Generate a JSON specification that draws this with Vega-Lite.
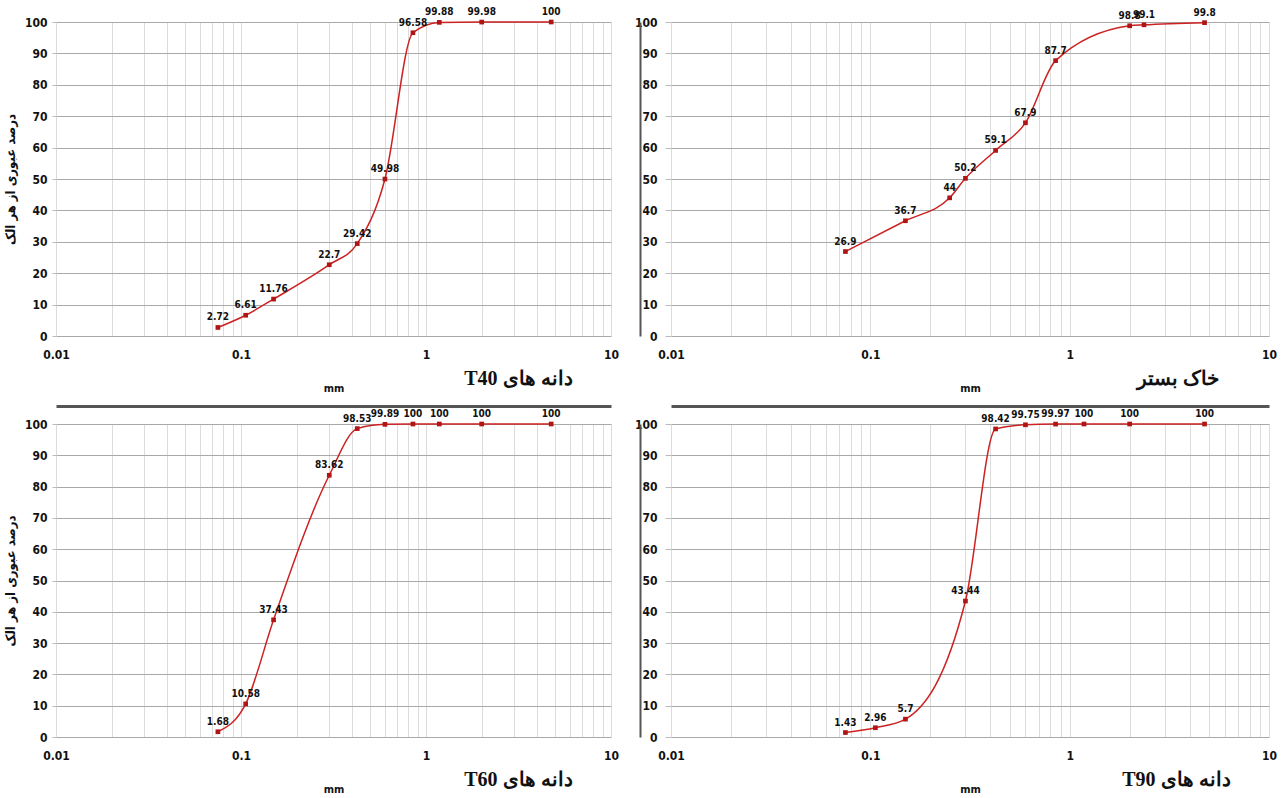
{
  "$schema": "https://vega.github.io/schema/vega-lite/v6.json",
  "autosize": {"type": "pad"},
  "padding": {"left": 4, "top": 7, "right": 5, "bottom": 5},
  "background": "white",
  "datasets": {
    "t40": [
      {"size": 0.075, "pass": 2.72},
      {"size": 0.106, "pass": 6.61},
      {"size": 0.15, "pass": 11.76},
      {"size": 0.3, "pass": 22.7},
      {"size": 0.425, "pass": 29.42},
      {"size": 0.6, "pass": 49.98},
      {"size": 0.85, "pass": 96.58},
      {"size": 1.18, "pass": 99.88},
      {"size": 2.0, "pass": 99.98},
      {"size": 4.75, "pass": 100}
    ],
    "bed": [
      {"size": 0.075, "pass": 26.9},
      {"size": 0.15, "pass": 36.7},
      {"size": 0.25, "pass": 44},
      {"size": 0.3, "pass": 50.2},
      {"size": 0.425, "pass": 59.1},
      {"size": 0.6, "pass": 67.9},
      {"size": 0.85, "pass": 87.7},
      {"size": 2.0, "pass": 98.8},
      {"size": 2.36, "pass": 99.1},
      {"size": 4.75, "pass": 99.8}
    ],
    "t60": [
      {"size": 0.075, "pass": 1.68},
      {"size": 0.106, "pass": 10.58},
      {"size": 0.15, "pass": 37.43},
      {"size": 0.3, "pass": 83.62},
      {"size": 0.425, "pass": 98.53},
      {"size": 0.6, "pass": 99.89},
      {"size": 0.85, "pass": 100},
      {"size": 1.18, "pass": 100},
      {"size": 2.0, "pass": 100},
      {"size": 4.75, "pass": 100}
    ],
    "t90": [
      {"size": 0.075, "pass": 1.43},
      {"size": 0.106, "pass": 2.96},
      {"size": 0.15, "pass": 5.7},
      {"size": 0.3, "pass": 43.44},
      {"size": 0.425, "pass": 98.42},
      {"size": 0.6, "pass": 99.75},
      {"size": 0.85, "pass": 99.97},
      {"size": 1.18, "pass": 100},
      {"size": 2.0, "pass": 100},
      {"size": 4.75, "pass": 100}
    ]
  },
  "config": {
    "view": {"stroke": null},
    "font": "DejaVu Sans Condensed, Liberation Sans, sans-serif",
    "axis": {
      "labelFont": "DejaVu Sans Condensed, Liberation Sans, sans-serif",
      "titleFont": "DejaVu Sans Condensed, DejaVu Sans, sans-serif",
      "labelFontWeight": "bold",
      "labelFontSize": 12,
      "labelColor": "#111",
      "titleFontWeight": "bold",
      "titleColor": "#111"
    },
    "line": {"interpolate": "monotone", "color": "#cc2222", "strokeWidth": 1.5},
    "point": {"shape": "square", "filled": true, "color": "#b01515", "size": 22, "opacity": 1},
    "text": {"dy": -10, "fontSize": 10, "fontWeight": "bold", "color": "#111", "font": "DejaVu Sans Condensed, Liberation Sans, sans-serif"},
    "title": {
      "font": "Liberation Serif, DejaVu Serif, serif",
      "fontSize": 20,
      "fontWeight": "bold",
      "color": "#111",
      "orient": "bottom",
      "anchor": "end",
      "offset": -24
    }
  },
  "columns": 2,
  "spacing": {"row": 88, "column": 60},
  "bounds": "flush",
  "align": "each",
  "concat": [
    {
      "width": 555, "height": 314,
      "data": {"name": "t40"},
      "title": {"text": "\u202bدانه های T40\u202c", "dx": -46},
      "layer": [
        {"mark": "line", "encoding": {
          "x": {"field": "size", "type": "quantitative", "scale": {"type": "log", "domain": [0.01, 10], "nice": false},
            "axis": {"values": [0.01,0.02,0.03,0.04,0.05,0.06,0.07,0.08,0.09,0.1,0.2,0.3,0.4,0.5,0.6,0.7,0.8,0.9,1,2,3,4,5,6,7,8,9,10],
              "labelExpr": "indexof(['0.01','0.1','1','10'], format(datum.value, '~g')) >= 0 ? format(datum.value, '~g') : ''",
              "labelFlush": false, "grid": true, "gridColor": "#dcdcdc", "gridWidth": 1, "ticks": false, "domain": false, "labelPadding": 13,
              "title": "mm", "titleFontSize": 11, "titlePadding": 22}},
          "y": {"field": "pass", "type": "quantitative", "scale": {"domain": [0, 100], "nice": false},
            "axis": {"values": [0,10,20,30,40,50,60,70,80,90,100], "grid": true, "gridColor": "#a9a9a9", "gridWidth": 1,
              "tickColor": "#bbb", "tickSize": 4, "labelPadding": 5, "domain": false,
              "title": "درصد عبوری از هر الک", "titleFontSize": 13, "titlePadding": 7}}}},
        {"mark": "point", "encoding": {
          "x": {"field": "size", "type": "quantitative", "axis": null},
          "y": {"field": "pass", "type": "quantitative", "axis": null}}},
        {"mark": "text", "encoding": {
          "x": {"field": "size", "type": "quantitative", "axis": null},
          "y": {"field": "pass", "type": "quantitative", "axis": null},
          "text": {"field": "pass", "type": "quantitative", "format": "~g"}}}
      ],
      "resolve": {"axis": {"x": "independent", "y": "independent"}}
    },
    {
      "width": 598, "height": 314,
      "data": {"name": "bed"},
      "title": {"text": "\u202bخاک بستر\u202c", "dx": -58},
      "layer": [
        {"mark": "line", "encoding": {
          "x": {"field": "size", "type": "quantitative", "scale": {"type": "log", "domain": [0.01, 10], "nice": false},
            "axis": {"values": [0.01,0.02,0.03,0.04,0.05,0.06,0.07,0.08,0.09,0.1,0.2,0.3,0.4,0.5,0.6,0.7,0.8,0.9,1,2,3,4,5,6,7,8,9,10],
              "labelExpr": "indexof(['0.01','0.1','1','10'], format(datum.value, '~g')) >= 0 ? format(datum.value, '~g') : ''",
              "labelFlush": false, "grid": true, "gridColor": "#dcdcdc", "gridWidth": 1, "ticks": false, "domain": false, "labelPadding": 13,
              "title": "mm", "titleFontSize": 11, "titlePadding": 22}},
          "y": {"field": "pass", "type": "quantitative", "scale": {"domain": [0, 100], "nice": false},
            "axis": {"values": [0,10,20,30,40,50,60,70,80,90,100], "grid": true, "gridColor": "#a9a9a9", "gridWidth": 1,
              "tickColor": "#bbb", "tickSize": 6, "labelPadding": 8, "domain": false, "title": null}}}},
        {"mark": "point", "encoding": {
          "x": {"field": "size", "type": "quantitative", "axis": null},
          "y": {"field": "pass", "type": "quantitative", "axis": null}}},
        {"mark": "text", "encoding": {
          "x": {"field": "size", "type": "quantitative", "axis": null},
          "y": {"field": "pass", "type": "quantitative", "axis": null},
          "text": {"field": "pass", "type": "quantitative", "format": "~g"}}},
        {"mark": {"type": "line", "opacity": 0}, "encoding": {
          "x": {"field": "size", "type": "quantitative", "axis": null},
          "y": {"field": "pass", "type": "quantitative",
            "axis": {"orient": "left", "offset": 31, "domain": true, "domainColor": "#555", "domainWidth": 2,
              "labels": false, "ticks": false, "grid": false, "title": null}}}}
      ],
      "resolve": {"axis": {"x": "independent", "y": "independent"}}
    },
    {
      "width": 555, "height": 313,
      "data": {"name": "t60"},
      "title": {"text": "\u202bدانه های T60\u202c", "dx": -46},
      "layer": [
        {"mark": "line", "encoding": {
          "x": {"field": "size", "type": "quantitative", "scale": {"type": "log", "domain": [0.01, 10], "nice": false},
            "axis": {"values": [0.01,0.02,0.03,0.04,0.05,0.06,0.07,0.08,0.09,0.1,0.2,0.3,0.4,0.5,0.6,0.7,0.8,0.9,1,2,3,4,5,6,7,8,9,10],
              "labelExpr": "indexof(['0.01','0.1','1','10'], format(datum.value, '~g')) >= 0 ? format(datum.value, '~g') : ''",
              "labelFlush": false, "grid": true, "gridColor": "#dcdcdc", "gridWidth": 1, "ticks": false, "domain": false, "labelPadding": 13,
              "title": "mm", "titleFontSize": 11, "titlePadding": 22}},
          "y": {"field": "pass", "type": "quantitative", "scale": {"domain": [0, 100], "nice": false},
            "axis": {"values": [0,10,20,30,40,50,60,70,80,90,100], "grid": true, "gridColor": "#a9a9a9", "gridWidth": 1,
              "tickColor": "#bbb", "tickSize": 4, "labelPadding": 5, "domain": false,
              "title": "درصد عبوری از هر الک", "titleFontSize": 13, "titlePadding": 7}}}},
        {"mark": "point", "encoding": {
          "x": {"field": "size", "type": "quantitative", "axis": null},
          "y": {"field": "pass", "type": "quantitative", "axis": null}}},
        {"mark": "text", "encoding": {
          "x": {"field": "size", "type": "quantitative", "axis": null},
          "y": {"field": "pass", "type": "quantitative", "axis": null},
          "text": {"field": "pass", "type": "quantitative", "format": "~g"}}},
        {"mark": {"type": "line", "opacity": 0}, "encoding": {
          "x": {"field": "size", "type": "quantitative",
            "axis": {"orient": "top", "offset": 18, "domain": true, "domainColor": "#555", "domainWidth": 3,
              "labels": false, "ticks": false, "grid": false, "title": null}},
          "y": {"field": "pass", "type": "quantitative", "axis": null}}}
      ],
      "resolve": {"axis": {"x": "independent", "y": "independent"}}
    },
    {
      "width": 598, "height": 313,
      "data": {"name": "t90"},
      "title": {"text": "\u202bدانه های T90\u202c", "dx": -46},
      "layer": [
        {"mark": "line", "encoding": {
          "x": {"field": "size", "type": "quantitative", "scale": {"type": "log", "domain": [0.01, 10], "nice": false},
            "axis": {"values": [0.01,0.02,0.03,0.04,0.05,0.06,0.07,0.08,0.09,0.1,0.2,0.3,0.4,0.5,0.6,0.7,0.8,0.9,1,2,3,4,5,6,7,8,9,10],
              "labelExpr": "indexof(['0.01','0.1','1','10'], format(datum.value, '~g')) >= 0 ? format(datum.value, '~g') : ''",
              "labelFlush": false, "grid": true, "gridColor": "#dcdcdc", "gridWidth": 1, "ticks": false, "domain": false, "labelPadding": 13,
              "title": "mm", "titleFontSize": 11, "titlePadding": 22}},
          "y": {"field": "pass", "type": "quantitative", "scale": {"domain": [0, 100], "nice": false},
            "axis": {"values": [0,10,20,30,40,50,60,70,80,90,100], "grid": true, "gridColor": "#a9a9a9", "gridWidth": 1,
              "tickColor": "#bbb", "tickSize": 6, "labelPadding": 8, "domain": false, "title": null}}}},
        {"mark": "point", "encoding": {
          "x": {"field": "size", "type": "quantitative", "axis": null},
          "y": {"field": "pass", "type": "quantitative", "axis": null}}},
        {"mark": "text", "encoding": {
          "x": {"field": "size", "type": "quantitative", "axis": null},
          "y": {"field": "pass", "type": "quantitative", "axis": null},
          "text": {"field": "pass", "type": "quantitative", "format": "~g"}}},
        {"mark": {"type": "line", "opacity": 0}, "encoding": {
          "x": {"field": "size", "type": "quantitative",
            "axis": {"orient": "top", "offset": 18, "domain": true, "domainColor": "#555", "domainWidth": 3,
              "labels": false, "ticks": false, "grid": false, "title": null}},
          "y": {"field": "pass", "type": "quantitative",
            "axis": {"orient": "left", "offset": 31, "domain": true, "domainColor": "#555", "domainWidth": 2,
              "labels": false, "ticks": false, "grid": false, "title": null}}}}
      ],
      "resolve": {"axis": {"x": "independent", "y": "independent"}}
    }
  ]
}
